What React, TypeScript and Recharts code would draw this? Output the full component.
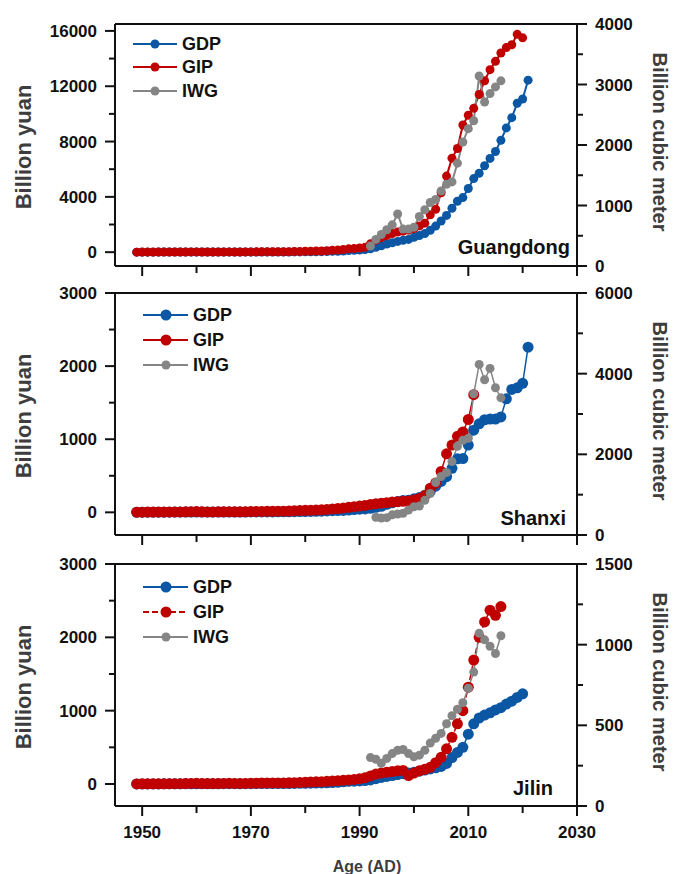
import React from "react";
import { LineChart, Line, XAxis, YAxis, Legend, ReferenceLine } from "recharts";

const FONT = '"Liberation Sans", Arial, Helvetica, sans-serif';
const INK = "#111";
const TITLE_INK = "#3d3d3d";
const BLUE = "#0b57a4";
const RED = "#c00000";
const GRAY = "#858585";

// years on the shared time axis
const FIRST_YEAR = 1949;
const LAST_YEAR = 2021;
const YEARS = Array.from({ length: LAST_YEAR - FIRST_YEAR + 1 }, (_, i) => FIRST_YEAR + i);
const X_TICKS = [1950, 1960, 1970, 1980, 1990, 2000, 2010, 2020, 2030];
const X_LABELS = [1950, 1970, 1990, 2010, 2030];

// Guangdong (GDP 1949-2021, GIP 1949-2020, IWG 1992-2016)
const GD_GDP = [
  2.0, 2.5, 2.8, 2.8, 3.4, 3.7, 3.9, 4.3, 4.9, 6.1,
  6.4, 6.3, 5.2, 5.5, 5.8, 6.3, 6.9, 7.5, 7.2, 6.7,
  7.6, 8.6, 9.5, 9.6, 10.7, 11.4, 12.5, 12.4, 13.7, 18.6,
  20.9, 24.9, 29.0, 33.9, 36.8, 45.9, 57.8, 66.8, 84.7, 115.5,
  138.1, 155.9, 189.3, 244.8, 346.9, 461.9, 593.3, 683.4, 777.4, 853.1,
  925.1, 1074.1, 1203.9, 1350.2, 1584.5, 1886.5, 2255.7, 2658.8, 3177.7, 3679.7,
  3948.3, 4601.3, 5321.0, 5706.8, 6247.5, 6780.9, 7281.3, 8085.5, 8987.9, 9727.8,
  10767.1, 11076.1, 12436.9,
];
const GD_GIP = [
  3, 4, 5, 6, 7, 8, 8, 10, 11, 15,
  17, 18, 12, 11, 12, 13, 15, 17, 16, 15,
  18, 21, 24, 26, 28, 30, 33, 34, 38, 45,
  52, 62, 70, 78, 88, 105, 130, 150, 185, 240,
  260, 300, 350, 600, 870, 1050, 1200, 1350, 1450, 1520,
  1590, 1700, 1900, 2100, 2700, 3100, 4300, 5500, 6800, 7500,
  9200, 9900, 10400, 11400, 12400, 13200, 13800, 14400, 14800, 15000,
  15750, 15500,
];
const GD_IWG = [
  330, 440, 520, 600, 680, 860, 610, 610, 640, 820,
  930, 1050, 1100, 1240, 1350, 1390, 1700, 2050, 2270, 2400,
  3140, 2710, 2850, 2960, 3060,
];

// Shanxi (GDP 1949-2021, GIP 1949-2011, IWG 1993-2016)
const SX_GDP = [
  1.3, 1.6, 1.8, 2.0, 2.2, 2.4, 2.5, 2.9, 3.0, 4.0,
  4.6, 4.7, 3.2, 2.9, 3.0, 3.2, 3.6, 3.9, 3.3, 3.2,
  3.9, 4.8, 5.3, 5.5, 5.8, 5.8, 6.6, 6.3, 7.1, 8.8,
  10.6, 10.9, 12.2, 13.9, 15.5, 19.7, 21.9, 23.5, 25.7, 31.7,
  37.6, 42.9, 46.9, 55.1, 68.1, 82.6, 109.2, 130.8, 147.6, 161.1,
  166.8, 184.6, 202.9, 232.5, 285.5, 357.1, 423.0, 487.9, 602.4, 731.5,
  735.8, 920.1, 1123.8, 1211.3, 1266.5, 1276.1, 1276.6, 1305.0, 1552.9, 1681.8,
  1702.7, 1765.2, 2259.0,
];
const SX_GIP = [
  2, 2, 3, 3, 4, 4, 5, 5, 6, 8,
  9, 10, 7, 6, 6, 7, 8, 9, 8, 7,
  9, 11, 12, 13, 14, 14, 16, 16, 18, 21,
  24, 27, 28, 31, 34, 40, 46, 52, 58, 68,
  78, 85, 95, 108, 118, 125, 132, 140, 146, 150,
  155, 170, 190, 230, 330, 400, 560, 800, 920, 1040,
  1100, 1270, 1610,
];
const SX_IWG = [
  440, 420, 430, 500, 520, 540, 620, 700, 720, 860,
  1030, 1300, 1450, 1550, 1820, 2200, 2350, 2400, 3500, 4230,
  3850, 4130, 3650, 3400,
];

// Jilin (GDP 1949-2020, GIP 1949-2016, IWG 1992-2016)
const JL_GDP = [
  1.0, 1.2, 1.4, 1.5, 1.7, 1.9, 2.0, 2.3, 2.4, 3.0,
  3.5, 3.6, 2.8, 2.9, 3.1, 3.5, 4.0, 4.3, 3.9, 3.6,
  4.1, 4.9, 5.3, 5.4, 5.9, 6.2, 6.6, 6.4, 6.8, 8.2,
  9.1, 9.9, 11.1, 12.2, 15.1, 16.8, 20.0, 22.7, 29.7, 36.9,
  39.2, 42.5, 46.3, 55.8, 71.8, 90, 103, 115, 128, 140,
  150, 160, 175, 190, 205, 220, 240, 280, 360, 430,
  500, 680, 820, 900, 940, 970, 1010, 1040, 1090, 1130,
  1180, 1230,
];
const JL_GIP = [
  1.5, 2, 2, 2.5, 3, 3.5, 4, 4.5, 5, 7,
  8, 9, 6, 6, 6.5, 7, 8, 9, 8, 7.5,
  8.5, 10, 11, 12, 13, 14, 15, 15, 16, 18,
  20, 25, 27, 29, 32, 36, 40, 45, 50, 56,
  62, 70, 85, 110, 135, 150, 160, 170, 180, 185,
  115, 150, 180, 200, 227, 290, 364, 480, 637, 820,
  1000, 1320, 1690, 2000, 2210, 2370, 2300, 2420,
];
const JL_IWG = [
  300, 290, 265, 295, 325, 345, 350, 325, 305, 315,
  345, 390, 420, 450, 510, 560, 600, 640, 730, 830,
  1070, 1030, 990, 945, 1055,
];

function buildRows(gdp: number[], gdpFrom: number, gip: number[], gipFrom: number, iwg: number[], iwgFrom: number) {
  return YEARS.map((year) => ({
    year,
    gdp: gdp[year - gdpFrom] ?? null,
    gip: gip[year - gipFrom] ?? null,
    iwg: iwg[year - iwgFrom] ?? null,
  }));
}

const tickText = { fontFamily: FONT, fontWeight: 700, fontSize: 17, fill: INK };

function xTick(showText: boolean) {
  return (p: any) => {
    const v = p.payload.value;
    const major = X_LABELS.includes(v);
    return (
      <g>
        <line x1={p.x} x2={p.x} y1={p.y} y2={p.y + (major ? 10 : 7)} stroke={INK} strokeWidth={2} />
        {showText && major && (
          <text x={p.x} y={p.y + 32} textAnchor="middle" style={tickText}>{v}</text>
        )}
      </g>
    );
  };
}

function yTick(side: "left" | "right", labels: number[]) {
  return (p: any) => {
    const v = p.payload.value;
    const major = labels.includes(v);
    const dir = side === "left" ? -1 : 1;
    return (
      <g>
        <line x1={p.x} x2={p.x + dir * (major ? 10 : 6)} y1={p.y} y2={p.y} stroke={INK} strokeWidth={2} />
        {major && (
          <text x={p.x + dir * 18} y={p.y} dy="0.36em" textAnchor={side === "left" ? "end" : "start"} style={tickText}>
            {v}
          </text>
        )}
      </g>
    );
  };
}

// rotated axis title; own prop names so the label props recharts adds don't clash
function AxisTitle({ tx, ty, rot, text, size }: any) {
  return (
    <g transform={`translate(${tx} ${ty}) rotate(${rot})`}>
      <text
        x={0}
        y={0}
        textAnchor="middle"
        dominantBaseline="central"
        style={{ fontFamily: FONT, fontWeight: 700, fontSize: size, fill: TITLE_INK }}
      >
        {text}
      </text>
    </g>
  );
}

type PanelCfg = {
  height: number;
  top: number;
  xHeight: number;
  showX: boolean;
  rows: any[];
  left: [number, number];
  leftTicks: number[];
  leftLabels: number[];
  right: [number, number];
  rightTicks: number[];
  rightLabels: number[];
  region: string;
  regionX: number;
  regionY: number;
  key: { x1: number; x2: number; dot: number; text: number; rows: number[] };
  r: number;
  rGray: number;
  lw: number;
  gipDash?: string;
};

function PanelKey({ payload, cfg }: any) {
  const items = payload || [];
  return (
    <svg width={673} height={cfg.height} style={{ display: "block", pointerEvents: "none" }}>
      {items.map((it: any, i: number) => {
        const y = cfg.key.rows[i];
        const isGray = it.dataKey === "iwg";
        const dash = it.dataKey === "gip" ? cfg.gipDash : undefined;
        return (
          <g key={it.value}>
            <line x1={cfg.key.x1} x2={cfg.key.x2} y1={y} y2={y} stroke={it.color} strokeWidth={2} strokeDasharray={dash} />
            <circle cx={cfg.key.dot} cy={y} r={isGray ? cfg.rGray : cfg.r} fill={it.color} />
            <text x={cfg.key.text} y={y} dy="0.36em" style={{ fontFamily: FONT, fontWeight: 700, fontSize: 18, fill: INK }}>
              {it.value}
            </text>
          </g>
        );
      })}
      <text x={cfg.regionX} y={cfg.regionY} textAnchor="end" style={{ fontFamily: FONT, fontWeight: 700, fontSize: 20, fill: INK }}>
        {cfg.region}
      </text>
    </svg>
  );
}

function Panel({ cfg }: { cfg: PanelCfg }) {
  const axisLine = { stroke: INK, strokeWidth: 2 };
  const plotMid = cfg.top + 121;
  return (
    <LineChart width={673} height={cfg.height} data={cfg.rows} margin={{ top: cfg.top, right: 0, bottom: 0, left: 0 }}>
      <XAxis
        dataKey="year"
        type="number"
        domain={[1945, 2030]}
        allowDataOverflow
        ticks={X_TICKS}
        interval={0}
        height={cfg.xHeight}
        tickSize={0}
        tickMargin={0}
        tickLine={false}
        axisLine={axisLine}
        tick={xTick(cfg.showX)}
        label={cfg.showX ? <AxisTitle tx={367} ty={cfg.top + 242 + 60} rot={0} text="Age (AD)" size={16} /> : undefined}
      />
      <YAxis
        yAxisId="left"
        width={115}
        domain={cfg.left}
        allowDataOverflow
        ticks={cfg.leftTicks}
        interval={0}
        tickSize={0}
        tickMargin={0}
        tickLine={false}
        axisLine={axisLine}
        tick={yTick("left", cfg.leftLabels)}
        label={<AxisTitle tx={23} ty={plotMid + 2} rot={-90} text="Billion  yuan" size={22} />}
      />
      <YAxis
        yAxisId="right"
        orientation="right"
        width={96}
        domain={cfg.right}
        allowDataOverflow
        ticks={cfg.rightTicks}
        interval={0}
        tickSize={0}
        tickMargin={0}
        tickLine={false}
        axisLine={axisLine}
        tick={yTick("right", cfg.rightLabels)}
        label={<AxisTitle tx={660} ty={plotMid - 3} rot={90} text="Billion cubic meter" size={20} />}
      />
      <ReferenceLine yAxisId="left" y={cfg.left[1]} stroke={INK} strokeWidth={2} />
      <Legend
        layout="horizontal"
        verticalAlign="middle"
        align="center"
        wrapperStyle={{ left: 0, top: 0, width: 673, height: cfg.height, pointerEvents: "none" }}
        content={(props: any) => <PanelKey payload={props.payload} cfg={cfg} />}
      />
      <Line
        yAxisId="left"
        dataKey="gdp"
        name="GDP"
        stroke={BLUE}
        strokeWidth={cfg.lw}
        dot={{ r: cfg.r, fill: BLUE, stroke: "none" }}
        activeDot={false}
        isAnimationActive={false}
      />
      <Line
        yAxisId="left"
        dataKey="gip"
        name="GIP"
        stroke={RED}
        strokeWidth={cfg.lw}
        strokeDasharray={cfg.gipDash}
        dot={{ r: cfg.r, fill: RED, stroke: "none", strokeDasharray: "" }}
        activeDot={false}
        isAnimationActive={false}
      />
      <Line
        yAxisId="right"
        dataKey="iwg"
        name="IWG"
        stroke={GRAY}
        strokeWidth={cfg.lw}
        dot={{ r: cfg.rGray, fill: GRAY, stroke: "none" }}
        activeDot={false}
        isAnimationActive={false}
      />
    </LineChart>
  );
}

const PANELS: PanelCfg[] = [
  {
    height: 280, top: 24, xHeight: 14, showX: false,
    rows: buildRows(GD_GDP, 1949, GD_GIP, 1949, GD_IWG, 1992),
    left: [-1000, 16500], leftTicks: [0, 2000, 4000, 6000, 8000, 10000, 12000, 14000, 16000], leftLabels: [0, 4000, 8000, 12000, 16000],
    right: [0, 4000], rightTicks: [0, 500, 1000, 1500, 2000, 2500, 3000, 3500, 4000], rightLabels: [0, 1000, 2000, 3000, 4000],
    region: "Guangdong", regionX: 570, regionY: 254,
    key: { x1: 133, x2: 177, dot: 155, text: 182, rows: [44, 67, 91] },
    r: 4.5, rGray: 4.5, lw: 2,
  },
  {
    height: 270, top: 13, xHeight: 15, showX: false,
    rows: buildRows(SX_GDP, 1949, SX_GIP, 1949, SX_IWG, 1993),
    left: [-310, 3000], leftTicks: [0, 500, 1000, 1500, 2000, 2500, 3000], leftLabels: [0, 1000, 2000, 3000],
    right: [0, 6000], rightTicks: [0, 1000, 2000, 3000, 4000, 5000, 6000], rightLabels: [0, 2000, 4000, 6000],
    region: "Shanxi", regionX: 566, regionY: 245,
    key: { x1: 143, x2: 188, dot: 166, text: 193, rows: [35, 60, 85] },
    r: 5.5, rGray: 4.5, lw: 1.5,
  },
  {
    height: 324, top: 14, xHeight: 68, showX: true,
    rows: buildRows(JL_GDP, 1949, JL_GIP, 1949, JL_IWG, 1992),
    left: [-300, 3000], leftTicks: [0, 500, 1000, 1500, 2000, 2500, 3000], leftLabels: [0, 1000, 2000, 3000],
    right: [0, 1500], rightTicks: [0, 250, 500, 750, 1000, 1250, 1500], rightLabels: [0, 500, 1000, 1500],
    region: "Jilin", regionX: 553, regionY: 245,
    key: { x1: 143, x2: 188, dot: 166, text: 193, rows: [37, 62, 87] },
    r: 5.5, rGray: 4.5, lw: 1.5, gipDash: "6 3",
  },
];

export default function App() {
  return (
    <div style={{ position: "absolute", left: 0, top: 0, width: 673, height: 874, background: "#fff" }}>
      {PANELS.map((cfg) => (
        <Panel key={cfg.region} cfg={cfg} />
      ))}
    </div>
  );
}
